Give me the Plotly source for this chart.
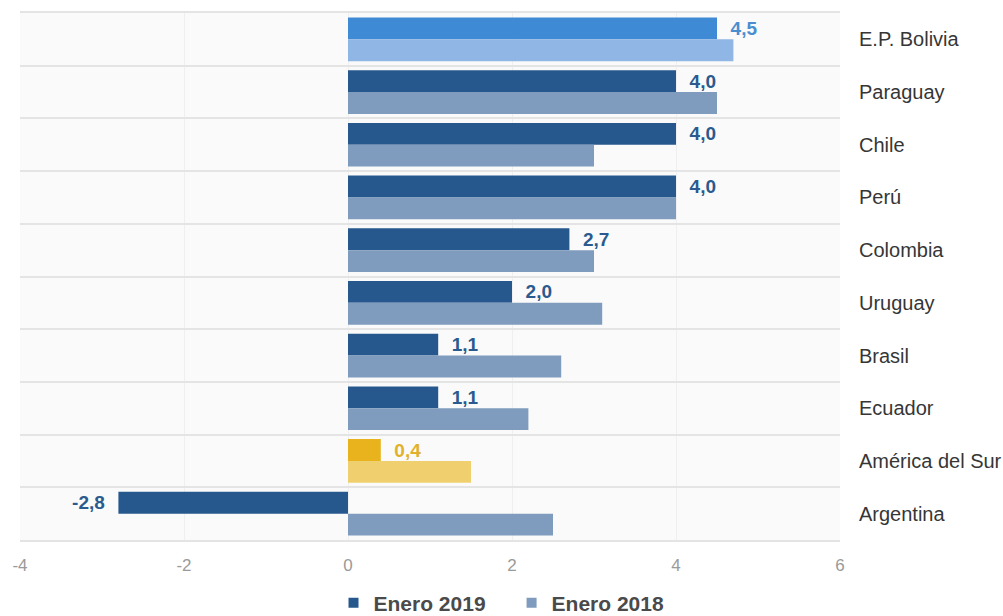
import plotly.graph_objects as go

# Countries, top to bottom
paises = ["E.P. Bolivia", "Paraguay", "Chile", "Perú", "Colombia",
          "Uruguay", "Brasil", "Ecuador", "América del Sur", "Argentina"]
enero_2019 = [4.5, 4.0, 4.0, 4.0, 2.7, 2.0, 1.1, 1.1, 0.4, -2.8]
enero_2018 = [4.7, 4.5, 3.0, 4.0, 3.0, 3.1, 2.6, 2.2, 1.5, 2.5]
x_ticks = [-4, -2, 0, 2, 4, 6]

AZUL = "#27588d"
AZUL_CLARO = "#7f9bbd"
# highlighted rows: (2019 bar, 2018 bar, value label)
DESTACADO = {"E.P. Bolivia": ("#3f8ad5", "#8fb6e4", "#4a8ed0"),
             "América del Sur": ("#e8b31c", "#f0d06e", "#e2b12c")}

col_2019 = [DESTACADO.get(p, (AZUL,))[0] for p in paises]
col_2018 = [DESTACADO.get(p, (None, AZUL_CLARO))[1] for p in paises]
col_txt = [DESTACADO.get(p, (None, None, "#2a5a8e"))[2] for p in paises]
etiquetas = [("  " + f"{v:.1f}" if v >= 0 else f"{v:.1f}" + "  ").replace(".", ",")
             for v in enero_2019]

fig = go.Figure()
fig.add_trace(go.Bar(
    y=paises, x=enero_2019, orientation="h", name="Enero 2019",
    marker=dict(color=col_2019, line=dict(width=0)),
    text=etiquetas, textposition="outside", cliponaxis=False,
    textfont=dict(family="Liberation Sans", size=19, color=col_txt, weight="bold"),
    hoverinfo="skip", showlegend=False,
))
fig.add_trace(go.Bar(
    y=paises, x=enero_2018, orientation="h", name="Enero 2018",
    marker=dict(color=col_2018, line=dict(width=0)),
    hoverinfo="skip", showlegend=False,
))
# legend entries in the base series colours
for nombre, color in [("Enero 2019", AZUL), ("Enero 2018", AZUL_CLARO)]:
    fig.add_trace(go.Scatter(
        x=[None], y=[None], mode="markers", name=nombre + "\u2003",
        marker=dict(symbol="square", size=10, color=color),
        hoverinfo="skip",
    ))

fig.update_layout(
    width=1003, height=616,
    margin=dict(l=20, r=163, t=13, b=76, autoexpand=False),
    paper_bgcolor="white", plot_bgcolor="#fafafa",
    barmode="group", bargap=0.17, bargroupgap=0,
    font=dict(family="Liberation Sans", color="#333"),
    showlegend=True,
    legend=dict(orientation="h", x=0.6, xanchor="center", y=-0.1195, yanchor="middle",
                font=dict(size=21, color="#4a4a4a", weight="bold"),
                itemwidth=30, traceorder="normal"),
    uniformtext=dict(mode=False),
)
fig.update_xaxes(
    range=[-4, 6], tickvals=x_ticks, ticktext=[str(t) for t in x_ticks],
    showgrid=True, gridcolor="#efefef", gridwidth=1,
    zeroline=False, showline=True, mirror=True, linecolor="#e4e4e4", linewidth=1.5,
    tickfont=dict(size=17, color="#9a9a9a"), ticklabelstandoff=9,
    automargin=False,
)
fig.update_yaxes(
    categoryorder="array", categoryarray=paises, autorange="reversed",
    side="right", tickson="boundaries", ticks="",
    showgrid=True, gridcolor="#e4e4e4", gridwidth=1.5,
    showline=False, zeroline=False,
    tickfont=dict(size=20, color="#363636"), ticklabelstandoff=18,
    automargin=False,
)

fig.write_html("out.html")
